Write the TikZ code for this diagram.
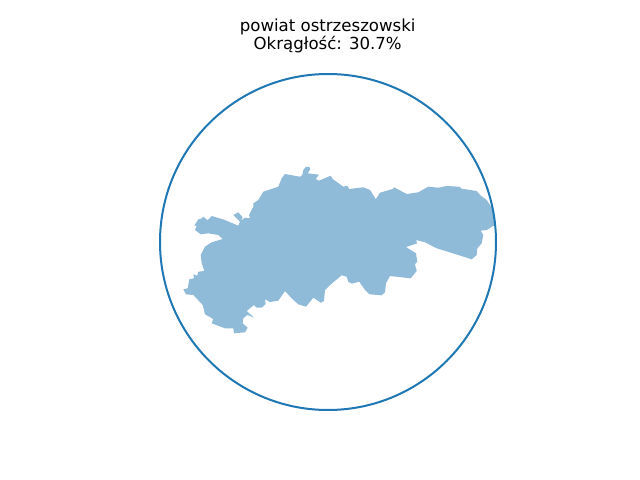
\documentclass[tikz,border=0pt]{standalone}
\usepackage{fontspec}
\setmainfont{DejaVu Sans}
\usepackage{tikz}
\definecolor{plotblue}{HTML}{1F77B4}
\tikzset{
  titlelabel/.style={inner sep=0pt,align=center,text=black,font=\fontsize{9.44}{10.2}\selectfont},
  unitcircle/.style={draw=plotblue,line width=1.14pt},
  region/.style={fill=plotblue,fill opacity=0.5,draw=none},
}
\begin{document}
\begin{tikzpicture}[x=0.02cm,y=-0.02cm]
\useasboundingbox (0,0) rectangle (640,480);
  \node[titlelabel] (title) at (327.7,36.2) {powiat ostrzeszowski\\Okrągłość: 30.7\%};
  \fill[region] (281.7,178.3) -- (285,174) -- (300,176.7) -- (302.3,175) -- (303.3,170)
    -- (305.7,167) -- (309.3,166.7) -- (310.3,169.3) -- (307.7,173.3) -- (319,174.7)
    -- (315.7,179) -- (319,180.7) -- (330.7,175.7) -- (332.7,179) -- (340,184.3)
    -- (343.3,186.7) -- (347.3,185.7) -- (349.3,189) -- (363.3,187.3) -- (370,190)
    -- (374.3,196.7) -- (375.7,199.3) -- (380,192.7) -- (392.7,189) -- (394,187.3)
    -- (406.7,194) -- (418.3,192.3) -- (428.3,186.7) -- (438.3,187.7) -- (446.7,186)
    -- (459.3,186.7) -- (461.7,188.7) -- (476.7,191) -- (480,195) -- (486.7,200)
    -- (493.3,210) -- (495,225) -- (486.7,230) -- (480.7,230.7) -- (483.3,235)
    -- (481.7,243.3) -- (477.3,248.3) -- (476.7,255) -- (471.7,259.3) -- (458.3,255)
    -- (436.7,248.3) -- (425,242.3) -- (416,240) -- (417.3,243.3) -- (406,247)
    -- (416,253.3) -- (417.3,261.7) -- (415,264.3) -- (416.7,271) -- (410.7,278.3)
    -- (390,276) -- (386,283.3) -- (385,292.3) -- (381.7,295.3) -- (369.3,294.3)
    -- (365,290) -- (359.3,281.7) -- (351.7,283.7) -- (348.3,281.7) -- (346.7,276.7)
    -- (341.7,275.3) -- (330,285) -- (325,290) -- (324,301) -- (320.7,302.7)
    -- (313.3,297.7) -- (306,306.7) -- (298.3,304.3) -- (291.7,298.3) -- (285,291)
    -- (278.3,300.7) -- (270,302) -- (265,299.3) -- (265.7,304) -- (261.7,307.7)
    -- (256.7,307.7) -- (254,305) -- (246.7,311) -- (254,317.7) -- (247.3,315)
    -- (243.3,318.3) -- (242.7,323.3) -- (247.7,327.7) -- (245,332.3) -- (234,333.3)
    -- (233.3,328.3) -- (225,328.3) -- (211.7,323.3) -- (213.3,319) -- (205,314.3)
    -- (202.7,305) -- (193.3,295) -- (186,294.3) -- (183.3,289.3) -- (187.7,288.3)
    -- (189.3,279.3) -- (194,278.3) -- (193.3,274.3) -- (197.3,275.7) -- (198.3,271.7)
    -- (204.3,271) -- (201.7,263.3) -- (200.7,255) -- (205,246.7) -- (211.7,242.3)
    -- (222.7,239) -- (218.3,235) -- (208.3,233.3) -- (200.7,234.3) -- (195,230)
    -- (196.7,225.7) -- (194.3,225.7) -- (198.3,219.3) -- (200.7,219) -- (203.3,216.7)
    -- (207.7,220.3) -- (211.7,216) -- (225,220) -- (238.3,225.7) -- (240,221.7)
    -- (233.3,215) -- (238.3,212.3) -- (242.7,217.3) -- (240.7,220.7) -- (245,217.7)
    -- (250,218.3) -- (249,215) -- (253.3,206.7) -- (253.3,203.3) -- (258.3,200)
    -- (263.3,191.7) -- (278.3,186.7) -- cycle;
  \draw[unitcircle] (328,242) circle[radius=168];
\end{tikzpicture}
\end{document}
